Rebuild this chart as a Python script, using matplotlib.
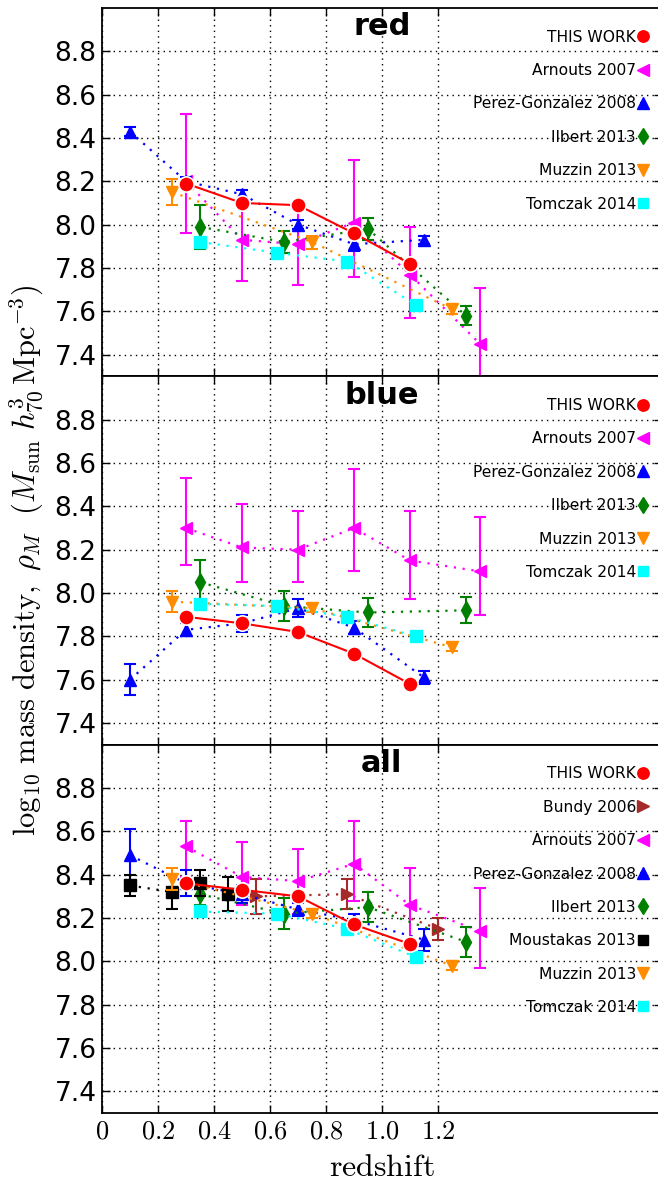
import matplotlib
matplotlib.use('Agg')
import matplotlib.pyplot as plt

plt.rcParams['mathtext.fontset'] = 'cm'
plt.rcParams['font.family'] = ['DejaVu Sans']

# redshift bins of each survey
z_this = [0.3, 0.5, 0.7, 0.9, 1.1]
z_bundy = [0.55, 0.875, 1.2]
z_arnouts = [0.3, 0.5, 0.7, 0.9, 1.1, 1.35]
z_perez = [0.1, 0.3, 0.5, 0.7, 0.9, 1.15]
z_ilbert = [0.35, 0.65, 0.95, 1.3]
z_moustakas = [0.1, 0.25, 0.35, 0.45]
z_muzzin = [0.25, 0.75, 1.25]
z_tomczak = [0.35, 0.625, 0.875, 1.12]

# red galaxies
red_this = [8.19, 8.10, 8.09, 7.96, 7.82]
red_arnouts = [8.20, 7.93, 7.91, 8.01, 7.77, 7.45]
red_arnouts_lo = [0.24, 0.19, 0.19, 0.25, 0.20, 0.26]
red_arnouts_hi = [0.31, 0.19, 0.19, 0.29, 0.22, 0.26]
red_perez = [8.43, 8.20, 8.14, 8.00, 7.91, 7.93]
red_perez_err = [0.02, 0.02, 0.02, 0.02, 0.03, 0.02]
red_ilbert = [7.99, 7.92, 7.98, 7.58]
red_ilbert_err = [0.10, 0.05, 0.05, 0.045]
red_muzzin = [8.15, 7.92, 7.61]
red_muzzin_err = [0.06, 0.03, 0.02]
red_tomczak = [7.92, 7.87, 7.83, 7.63]

# blue galaxies
blue_this = [7.89, 7.86, 7.82, 7.72, 7.58]
blue_arnouts = [8.30, 8.21, 8.20, 8.30, 8.15, 8.10]
blue_arnouts_lo = [0.17, 0.16, 0.15, 0.20, 0.18, 0.20]
blue_arnouts_hi = [0.23, 0.20, 0.18, 0.27, 0.23, 0.25]
blue_perez = [7.60, 7.83, 7.86, 7.93, 7.84, 7.61]
blue_perez_err = [0.07, 0.03, 0.04, 0.04, 0.03, 0.03]
blue_ilbert = [8.05, 7.94, 7.91, 7.92]
blue_ilbert_err = [0.10, 0.07, 0.065, 0.06]
blue_muzzin = [7.96, 7.93, 7.75]
blue_muzzin_err = [0.05, 0.02, 0.02]
blue_tomczak = [7.95, 7.94, 7.89, 7.80]

# all galaxies
all_this = [8.36, 8.33, 8.30, 8.17, 8.08]
all_bundy = [8.30, 8.31, 8.15]
all_bundy_err = [0.08, 0.07, 0.05]
all_arnouts = [8.53, 8.39, 8.37, 8.45, 8.26, 8.14]
all_arnouts_lo = [0.14, 0.13, 0.15, 0.17, 0.17, 0.17]
all_arnouts_hi = [0.12, 0.16, 0.15, 0.20, 0.17, 0.20]
all_perez = [8.49, 8.36, 8.31, 8.24, 8.19, 8.10]
all_perez_err = [0.12, 0.06, 0.04, 0.03, 0.03, 0.05]
all_ilbert = [8.31, 8.22, 8.25, 8.09]
all_ilbert_err = [0.05, 0.07, 0.07, 0.07]
all_moustakas = [8.35, 8.32, 8.36, 8.31]
all_moustakas_err = [0.05, 0.08, 0.06, 0.08]
all_muzzin = [8.38, 8.22, 7.98]
all_muzzin_err = [0.05, 0.02, 0.02]
all_tomczak = [8.23, 8.22, 8.15, 8.02]

x_ticks = [0, 0.2, 0.4, 0.6, 0.8, 1.0, 1.2]
x_ticklabels = ['$0$', '$0.2$', '$0.4$', '$0.6$', '$0.8$', '$1.0$', '$1.2$']
y_ticks = [7.4, 7.6, 7.8, 8.0, 8.2, 8.4, 8.6, 8.8]

DOT = (0, (1, 3))


def series(ax, x, y, color, marker, label, err=None, ms=9, z=3):
    if err is not None:
        ax.errorbar(x, y, yerr=err, fmt='none', ecolor=color, elinewidth=1.5,
                    capsize=4, capthick=1.5, zorder=z)
    line, = ax.plot(x, y, color=color, ls=DOT, lw=1.6, marker=marker, ms=ms,
                    mec=color, label=label, zorder=z)
    return line


fig = plt.figure(figsize=(6.58, 11.86), dpi=100)
left = 102 / 658.
width = 560 / 658.
ph = (1113 - 8) / 3. / 1186.
top = 1 - 8 / 1186.

panels = ['red', 'blue', 'all']
axes = []
for i, name in enumerate(panels):
    ax = fig.add_axes([left, top - (i + 1) * ph, width, ph])
    axes.append(ax)
    handles = []
    if name == 'red':
        handles.append(series(ax, z_arnouts, red_arnouts, 'magenta', '<', 'Arnouts 2007',
                              [red_arnouts_lo, red_arnouts_hi]))
        handles.append(series(ax, z_perez, red_perez, 'blue', '^', 'Perez-Gonzalez 2008', red_perez_err))
        handles.append(series(ax, z_ilbert, red_ilbert, 'green', 'd', 'Ilbert 2013', red_ilbert_err))
        handles.append(series(ax, z_muzzin, red_muzzin, 'darkorange', 'v', 'Muzzin 2013', red_muzzin_err))
        handles.append(series(ax, z_tomczak, red_tomczak, 'cyan', 's', 'Tomczak 2014', ms=8))
        this_y = red_this
    elif name == 'blue':
        handles.append(series(ax, z_arnouts, blue_arnouts, 'magenta', '<', 'Arnouts 2007',
                              [blue_arnouts_lo, blue_arnouts_hi]))
        handles.append(series(ax, z_perez, blue_perez, 'blue', '^', 'Perez-Gonzalez 2008', blue_perez_err))
        handles.append(series(ax, z_ilbert, blue_ilbert, 'green', 'd', 'Ilbert 2013', blue_ilbert_err))
        handles.append(series(ax, z_muzzin, blue_muzzin, 'darkorange', 'v', 'Muzzin 2013', blue_muzzin_err))
        handles.append(series(ax, z_tomczak, blue_tomczak, 'cyan', 's', 'Tomczak 2014', ms=8))
        this_y = blue_this
    else:
        handles.append(series(ax, z_bundy, all_bundy, 'brown', '>', 'Bundy 2006', all_bundy_err))
        handles.append(series(ax, z_arnouts, all_arnouts, 'magenta', '<', 'Arnouts 2007',
                              [all_arnouts_lo, all_arnouts_hi]))
        handles.append(series(ax, z_perez, all_perez, 'blue', '^', 'Perez-Gonzalez 2008', all_perez_err))
        handles.append(series(ax, z_ilbert, all_ilbert, 'green', 'd', 'Ilbert 2013', all_ilbert_err))
        handles.append(series(ax, z_moustakas, all_moustakas, 'black', 's', 'Moustakas 2013',
                              all_moustakas_err, ms=8))
        handles.append(series(ax, z_muzzin, all_muzzin, 'darkorange', 'v', 'Muzzin 2013', all_muzzin_err))
        handles.append(series(ax, z_tomczak, all_tomczak, 'cyan', 's', 'Tomczak 2014', ms=8))
        this_y = all_this

    this_line, = ax.plot(z_this, this_y, color='red', lw=1.5, marker='o', ms=11,
                         mec='white', mew=1.2, label='THIS WORK', zorder=10)
    handles.insert(0, this_line)

    leg = ax.legend(handles=handles, loc='upper right', bbox_to_anchor=(1.012, 1.0),
                    frameon=False, markerfirst=False, numpoints=1, fontsize=11.2,
                    labelspacing=1.18, handlelength=0.45, handletextpad=0.25,
                    borderaxespad=1.0, markerscale=0.95)

    ax.text(0.5, 0.988, name, transform=ax.transAxes, ha='center', va='top',
            fontsize=22, fontweight='bold')

    ax.set_xlim(0, 2.0)
    ax.set_ylim(7.3, 9.0)
    ax.set_xticks(x_ticks)
    ax.set_yticks(y_ticks)
    ax.set_yticklabels(['%.1f' % v for v in y_ticks])
    ax.grid(True, color='black', ls=DOT, lw=1.0)
    ax.tick_params(direction='in', length=6, width=1, top=True, right=True,
                   labelsize=19, pad=4)
    for s in ax.spines.values():
        s.set_linewidth(1.3)
    if i < 2:
        ax.set_xticklabels([])
    else:
        ax.set_xticklabels(x_ticklabels)
        ax.set_xlabel(r'$\mathrm{redshift}$', fontsize=23, labelpad=5)

axes[1].set_ylabel(r'$\log_{10}\,\mathrm{mass\ density,}\ \rho_M\ \ (M_{\rm sun}\ h^3_{70}\,\mathrm{Mpc}^{-3})$',
                   fontsize=22)
axes[1].yaxis.set_label_coords(-0.1, 0.5)

fig.savefig('out.png', dpi=100)
